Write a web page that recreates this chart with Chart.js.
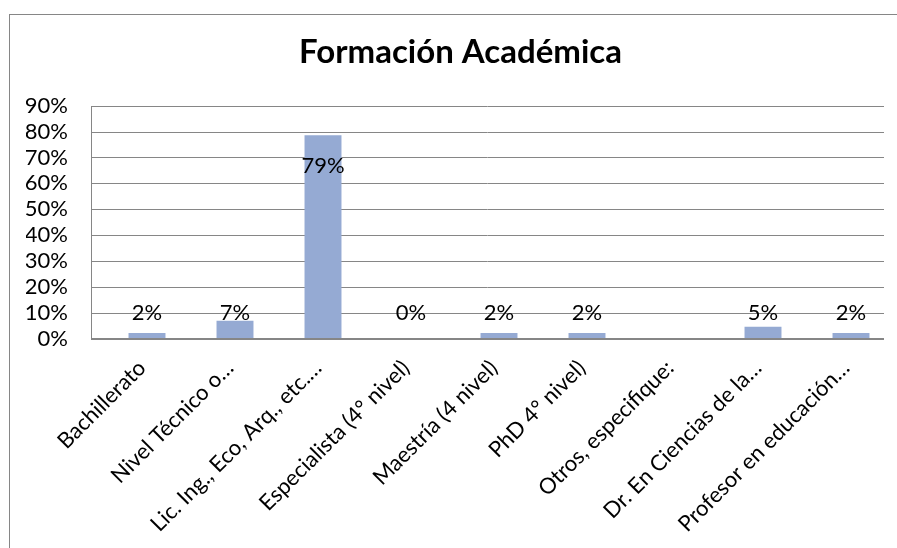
<!DOCTYPE html>
<html>
<head>
<meta charset="utf-8">
<script src="https://cdn.jsdelivr.net/npm/chart.js@4.4.1/dist/chart.umd.min.js"></script>
<style>
  html, body { margin: 0; padding: 0; background: #ffffff; }
  #wrap { width: 897px; height: 548px; position: relative; }
</style>
</head>
<body>
<div id="wrap"><canvas id="c" width="897" height="548"></canvas></div>
<script>
const categories = [
  "Bachillerato",
  "Nivel Técnico o…",
  "Lic. Ing., Eco, Arq., etc.…",
  "Especialista (4° nivel)",
  "Maestría (4 nivel)",
  "PhD 4° nivel)",
  "Otros, especifique:",
  "Dr. En Ciencias de la…",
  "Profesor en educación…"
];
const shares = [0.023, 0.07, 0.786, 0, 0.023, 0.023, null, 0.047, 0.023];
const yTicks = [0, 0.1, 0.2, 0.3, 0.4, 0.5, 0.6, 0.7, 0.8, 0.9];
const titleText = "Formación Académica";

const FONT = "Lato, 'Noto Sans', sans-serif";
const GRID = "#868686";

const framePlugin = {
  id: 'frame',
  beforeDraw(chart) {
    const ctx = chart.ctx;
    ctx.save();
    ctx.fillStyle = '#ffffff';
    ctx.fillRect(0, 0, chart.width, chart.height);
    ctx.strokeStyle = GRID;
    ctx.lineWidth = 1;
    ctx.strokeRect(9.5, 14.5, 1200, 1200);
    ctx.restore();
  },
  beforeDatasetsDraw(chart) {
    const ctx = chart.ctx;
    const y = chart.scales.y;
    const left = 91, right = 884;
    ctx.save();
    ctx.strokeStyle = GRID;
    ctx.lineWidth = 1;
    yTicks.forEach(v => {
      if (v === 0) return;
      const py = Math.round(y.getPixelForValue(v)) + 0.5;
      ctx.beginPath(); ctx.moveTo(left, py); ctx.lineTo(right, py); ctx.stroke();
    });
    const top = Math.round(y.getPixelForValue(0.9));
    const bot = Math.round(y.getPixelForValue(0));
    ctx.beginPath(); ctx.moveTo(left + 0.5, top); ctx.lineTo(left + 0.5, bot); ctx.stroke();
    ctx.restore();
  },
  afterDatasetsDraw(chart) {
    const ctx = chart.ctx;
    const y = chart.scales.y;
    const meta = chart.getDatasetMeta(0);
    ctx.save();
    const bot = Math.round(y.getPixelForValue(0));
    ctx.strokeStyle = GRID;
    ctx.lineWidth = 2;
    ctx.beginPath(); ctx.moveTo(91, bot); ctx.lineTo(884, bot); ctx.stroke();
    ctx.fillStyle = '#000000';
    ctx.font = "22px " + FONT;
    ctx.textAlign = 'center';
    ctx.textBaseline = 'middle';
    meta.data.forEach((bar, i) => {
      const v = shares[i];
      if (v === null || v === undefined) return;
      const labelVal = v > 0.5 ? v - 0.118 : 0.1;
      const py = y.getPixelForValue(labelVal);
      ctx.fillText(Math.round(v * 100) + '%', bar.x, py);
    });
    ctx.restore();
  }
};

new Chart(document.getElementById('c'), {
  type: 'bar',
  data: {
    labels: categories,
    datasets: [{
      data: shares,
      backgroundColor: '#95AAD3',
      borderWidth: 0,
      categoryPercentage: 1.0,
      barPercentage: 0.42
    }]
  },
  options: {
    responsive: false,
    animation: false,
    devicePixelRatio: 1,
    layout: { padding: { left: 26, right: 2, top: 0, bottom: 0 } },
    plugins: {
      legend: { display: false },
      tooltip: { enabled: false },
      title: {
        display: true,
        text: titleText,
        color: '#000000',
        font: { family: FONT, size: 33, weight: 'bold', lineHeight: 1.2 },
        padding: { top: 33, bottom: 33 }
      }
    },
    scales: {
      x: {
        grid: { display: false, drawTicks: false },
        border: { display: false },
        ticks: {
          autoSkip: false,
          maxRotation: 45,
          minRotation: 45,
          padding: 16,
          labelOffset: -5,
          color: '#000000',
          font: { family: FONT, size: 22 }
        },
        afterFit(scale) { scale.height = 209; }
      },
      y: {
        min: 0,
        max: 0.9,
        afterBuildTicks(scale) { scale.ticks = yTicks.map(v => ({ value: v })); },
        grid: { display: false, drawTicks: false },
        border: { display: false },
        ticks: {
          autoSkip: false,
          padding: 35,
          color: '#000000',
          font: { family: FONT, size: 22 },
          callback: (v) => Math.round(v * 100) + '%'
        },
        afterFit(scale) { scale.width = 77; }
      }
    }
  },
  plugins: [framePlugin]
});
</script>
</body>
</html>
